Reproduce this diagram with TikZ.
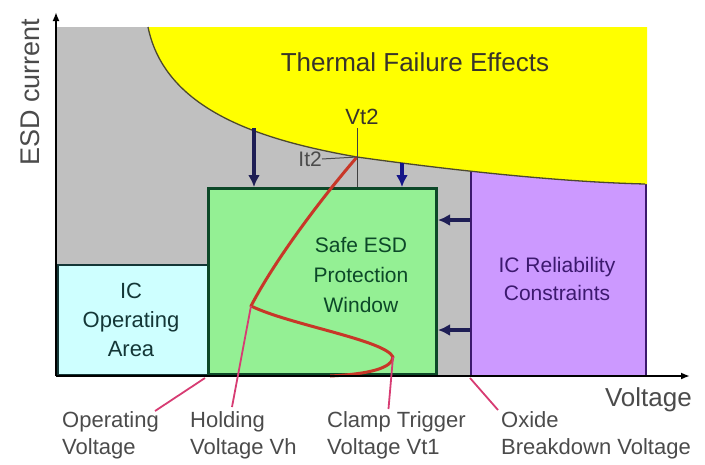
\documentclass[tikz,border=0pt]{standalone}
\usepackage{fontspec}
\setmainfont{Liberation Sans}
\usepackage{tikz}
\usepackage{xcolor}
\usetikzlibrary{arrows.meta, positioning}

\definecolor{bggray}{RGB}{192,192,192}
\definecolor{hotyellow}{RGB}{255,255,0}
\definecolor{relpurple}{RGB}{204,153,255}
\definecolor{safegreen}{RGB}{148,240,148}
\definecolor{opcyan}{RGB}{206,255,255}
\definecolor{darkgreen}{RGB}{12,72,40}
\definecolor{darkteal}{RGB}{20,55,55}
\definecolor{darkpurple}{RGB}{60,25,110}
\definecolor{navy}{RGB}{30,30,85}
\definecolor{ivred}{RGB}{200,55,40}
\definecolor{pointpink}{RGB}{215,60,115}
\definecolor{labelgray}{RGB}{75,75,75}

\tikzset{
    areabox/.style={anchor=south west, inner sep=0pt},
    push/.style={-{Latex[length=12pt,width=12pt]}, line width=3.5pt, navy},
    pointer/.style={line width=1.8pt, pointpink},
    axislabel/.style={font=\fontsize{22}{27}\selectfont, labelgray, align=left, anchor=north west, inner sep=0pt}
}

\begin{document}
\begin{tikzpicture}[x=1pt, y=-1pt]
        \useasboundingbox (0,0) rectangle (705,464);
        \coordinate (O) at (56,376);
        \coordinate (xend) at (690,376);
        \coordinate (yend) at (56,12);
        % regions
        \fill[bggray] (56,27) rectangle (645,376);
        \node[areabox, draw=darkpurple, line width=1.5pt, fill=relpurple, minimum width=175pt, minimum height=206pt] (relbox) at (470,376) {};
        \fill[hotyellow] (148,27) .. controls (165,110) and (260,140) .. (357,157)
            .. controls (450,170) and (560,182) .. (645,184) -- (647,184) -- (647,27) -- cycle;
        \draw[line width=1.3pt, black!60!olive] (148,27) .. controls (165,110) and (260,140) .. (357,157)
            .. controls (450,170) and (560,182) .. (645,184);
        \node[areabox, draw=darkteal, line width=2.5pt, fill=opcyan, minimum width=151pt, minimum height=110pt] (opbox) at (56,376) {};
        \node[areabox, draw=darkgreen, line width=3pt, fill=safegreen, minimum width=228pt, minimum height=186pt] (safebox) at (207,376) {};
        % texts
        \node[font=\fontsize{26}{30}\selectfont, black!80!olive] (thermal) at (415,62) {Thermal Failure Effects};
        \node[font=\fontsize{21}{30}\selectfont, darkgreen, align=center] (safe) at (361,275) {Safe ESD\\Protection\\Window};
        \node[font=\fontsize{22}{29}\selectfont, darkteal, align=center] (icop) at (131,320) {IC\\Operating\\Area};
        \node[font=\fontsize{21}{28}\selectfont, darkpurple, align=center] (icrel) at (557,279) {IC Reliability\\Constraints};
        \node[font=\fontsize{22}{26}\selectfont, black!80!olive] (vtwo) at (362,117) {Vt2};
        \node[font=\fontsize{21}{26}\selectfont, labelgray, anchor=east, inner sep=0pt] (itwo) at (322,159) {It2};
        \node[font=\fontsize{26}{30}\selectfont, labelgray, anchor=base east, inner sep=0pt] (xlabel) at (692,406) {Voltage};
        \node[font=\fontsize{27}{30}\selectfont, labelgray, rotate=90] (ylabel) at (30,92) {ESD current};
        \node[axislabel] (opv) at (62,411) {Operating\\Voltage};
        \node[axislabel] (holdv) at (190,411) {Holding\\Voltage Vh};
        \node[axislabel] (clampv) at (327,411) {Clamp Trigger\\Voltage Vt1};
        \node[axislabel] (oxidev) at (501,411) {Oxide\\Breakdown Voltage};
        % I-V curve
        \coordinate (vtone) at (393,357);
        \coordinate (hold) at (251,306);
        \coordinate (vttwo) at (357,157);
        \draw[ivred, line width=3pt, line join=round] (330,376) .. controls (370,374) and (392,368) .. (vtone)
            .. controls (385,340) and (290,325) .. (hold)
            .. controls (275,260) and (320,200) .. (vttwo);
        \draw[line width=1pt, black!75] (vtwo.south -| vttwo) -- ([yshift=-30pt]vttwo);
        \draw[line width=1pt, labelgray] (itwo.east) -- (vttwo);
        % pushing arrows
        \coordinate (d1) at (254,128);
        \coordinate (d2) at (402,163);
        \coordinate (l1) at (470,220);
        \coordinate (l2) at (470,330);
        \draw[push] (d1) -- (d1 |- safebox.north);
        \draw[push, navy!70!blue] (d2) -- (d2 |- safebox.north);
        \draw[push] (l1) -- (l1 -| safebox.east);
        \draw[push] (l2) -- (l2 -| safebox.east);
        % axes
        \draw[-{Latex[length=9pt,width=7pt]}, line width=2.5pt] (O) -- (xend);
        \draw[-{Latex[length=9pt,width=7pt]}, line width=2.5pt] (O) -- (yend);
        % pointers
        \coordinate (opvpt) at (205,378);
        \coordinate (oxpt) at (470,378);
        \draw[pointer] (opvpt) -- ([xshift=-4pt]opv.north east);
        \draw[pointer] (hold) -- ([xshift=42pt,yshift=4pt]holdv.north west);
        \draw[pointer] (vtone) -- ([xshift=-8pt,yshift=2pt]clampv.north);
        \draw[pointer] (oxpt) -- ([xshift=-3pt,yshift=1pt]oxidev.north west);
    \end{tikzpicture}
\end{document}
